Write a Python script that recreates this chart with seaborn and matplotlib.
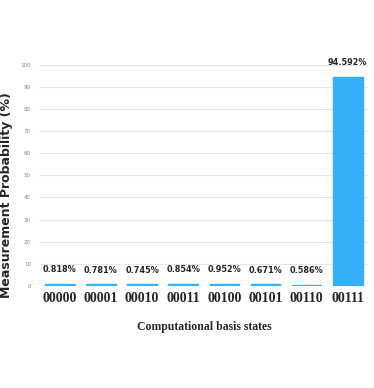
import matplotlib
matplotlib.use("Agg")
import matplotlib.pyplot as plt
import seaborn as sns
import pandas as pd

states = ["00000", "00001", "00010", "00011", "00100", "00101", "00110", "00111"]
probs = [0.818, 0.781, 0.745, 0.854, 0.952, 0.671, 0.586, 94.592]
y_ticks = [0, 10, 20, 30, 40, 50, 60, 70, 80, 90, 100]

sns.set_style("white")
df = pd.DataFrame({"state": states, "prob": probs})

fig = plt.figure(figsize=(3.74, 3.88), dpi=100)
ax = fig.add_axes([0.105, 0.263, 0.88, 0.57])
ax.set_axisbelow(True)
ax.yaxis.grid(True, color="#e6e6e6", linewidth=0.8)

sns.barplot(data=df, x="state", y="prob", color="#35b0fb", saturation=1,
            width=0.72, linewidth=1.0, edgecolor="#35b0fb", ax=ax)

for i, v in enumerate(probs):
    ax.annotate(f"{v:.3f}%", (i, v), xytext=(0, 7), textcoords="offset points",
                ha="center", va="bottom", fontsize=6.5, fontweight="bold",
                fontstretch="condensed")

ax.set_ylim(0, 100)
ax.set_yticks(y_ticks)
ax.set_yticklabels([str(t) for t in y_ticks], fontsize=4, color="#888888")
ax.tick_params(axis="y", length=0, pad=6)
ax.tick_params(axis="x", length=0, pad=4)
for lab in ax.get_xticklabels():
    lab.set_fontfamily("Liberation Serif")
    lab.set_fontweight("bold")
    lab.set_fontsize(10)
for s in ax.spines.values():
    s.set_visible(False)

ax.set_xlabel("Computational basis states", fontfamily="Liberation Serif",
              fontweight="bold", fontsize=8.5, labelpad=12)
ax.set_ylabel("Measurement Probability (%)", fontweight="bold", fontsize=9)
ax.yaxis.set_label_coords(-0.08, 0.41)

fig.savefig("out.png", dpi=100)
